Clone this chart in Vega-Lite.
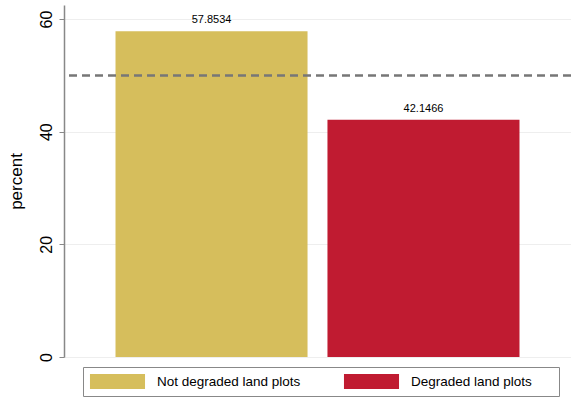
{
  "$schema": "https://vega.github.io/schema/vega-lite/v6.json",
  "autosize": {"type": "none"},
  "width": 507,
  "height": 352,
  "padding": {"left": 64, "top": 5, "right": 0, "bottom": 40},
  "background": "white",
  "config": {
    "font": "Liberation Sans",
    "view": {"stroke": null},
    "axis": {"labelFont": "Liberation Sans", "titleFont": "Liberation Sans"}
  },
  "datasets": {
    "bars": [
      {"group": "Not degraded land plots", "percent": 57.8534, "label": "57.8534"},
      {"group": "Degraded land plots", "percent": 42.1466, "label": "42.1466"}
    ],
    "ref": [{"y": 50}]
  },
  "layer": [
    {
      "data": {"name": "bars"},
      "mark": {"type": "bar"},
      "encoding": {
        "x": {
          "field": "group", "type": "nominal",
          "sort": ["Not degraded land plots", "Degraded land plots"],
          "scale": {"paddingInner": 0.094, "paddingOuter": 0.243},
          "axis": null
        },
        "y": {
          "field": "percent", "type": "quantitative",
          "scale": {"domain": [0, 62.5], "nice": false},
          "axis": {
            "title": "percent", "titleFontSize": 17, "titleFontWeight": "normal", "titleColor": "#000",
            "titlePadding": 13,
            "values": [0, 20, 40, 60],
            "labelAngle": -90, "labelFontSize": 16, "labelColor": "#000", "labelAlign": "center", "labelBaseline": "bottom",
            "labelPadding": 5,
            "tickSize": 5, "tickColor": "#888", "domainColor": "#888", "domainWidth": 1.5,
            "grid": true, "gridColor": "#eeeeee", "gridWidth": 1
          }
        },
        "color": {
          "field": "group", "type": "nominal",
          "sort": ["Not degraded land plots", "Degraded land plots"],
          "scale": {"domain": ["Not degraded land plots", "Degraded land plots"], "range": ["#D6BE5C", "#C01B31"]},
          "legend": {
            "title": null, "orient": "none", "direction": "horizontal",
            "legendX": 19, "legendY": 362,
            "strokeColor": "#888", "padding": 7,
            "symbolType": "M-3.67,-1L3.67,-1L3.67,1L-3.67,1Z",
            "symbolSize": 225, "symbolStrokeWidth": 0, "symbolOpacity": 1,
            "symbolOffset": 20,
            "labelFontSize": 13.5, "labelColor": "#000", "labelOffset": 32,
            "labelExpr": "datum.label == 'Degraded land plots' ? datum.label + '\u2800\u2800' : datum.label",
            "columnPadding": 42
          }
        }
      }
    },
    {
      "data": {"name": "bars"},
      "mark": {"type": "text", "baseline": "bottom", "dy": -6, "fontSize": 11, "color": "#000"},
      "encoding": {
        "x": {"field": "group", "type": "nominal", "sort": ["Not degraded land plots", "Degraded land plots"]},
        "y": {"field": "percent", "type": "quantitative"},
        "text": {"field": "label"}
      }
    },
    {
      "data": {"name": "ref"},
      "mark": {"type": "rule", "color": "#777", "strokeWidth": 2.5, "strokeDash": [8, 5]},
      "encoding": {"y": {"field": "y", "type": "quantitative"}}
    }
  ]
}
